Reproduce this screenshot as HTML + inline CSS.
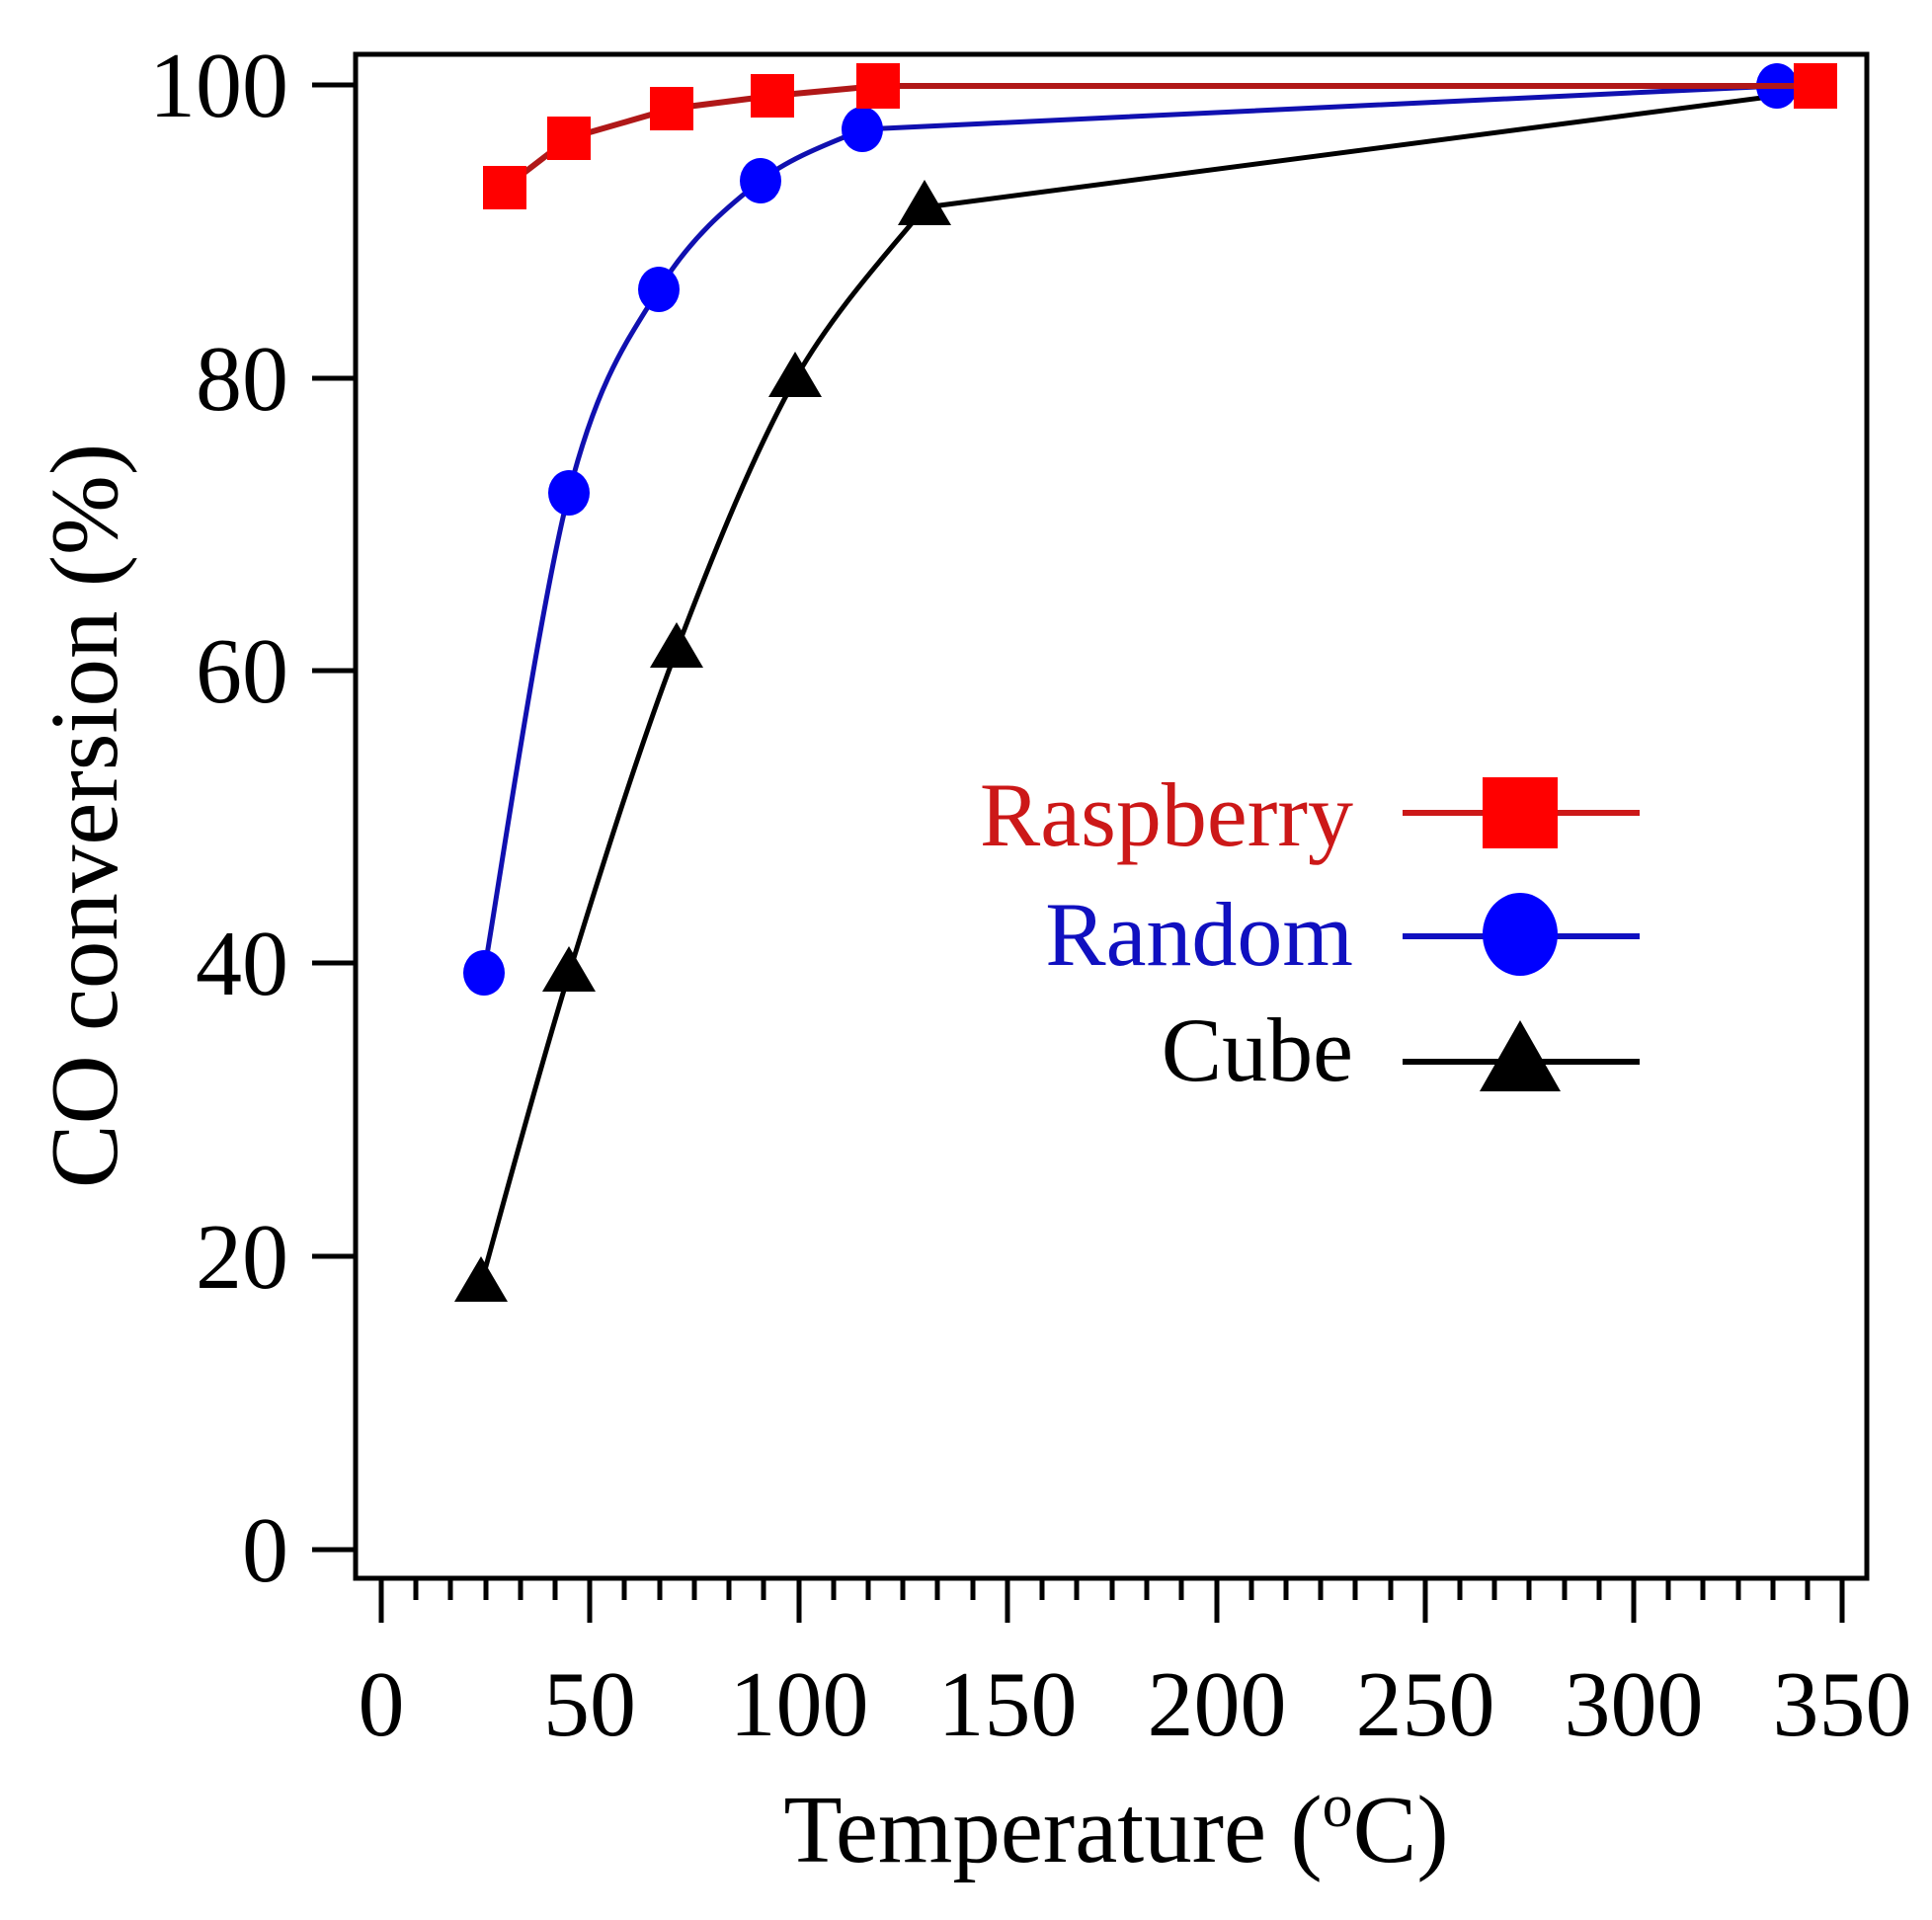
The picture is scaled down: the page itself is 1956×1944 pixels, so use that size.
<!DOCTYPE html>
<html><head><meta charset="utf-8"><style>
html,body{margin:0;padding:0;background:#fff;}
svg{display:block;}
text{font-family:"Liberation Serif",serif;}
</style></head><body>
<svg width="1956" height="1944" viewBox="0 0 1956 1944" xmlns="http://www.w3.org/2000/svg">
<rect width="1956" height="1944" fill="#fff"/>
<rect x="360" y="55" width="1530" height="1543" fill="none" stroke="#000" stroke-width="5"/>
<g stroke="#000" stroke-width="5">
<line x1="316" y1="1569" x2="360" y2="1569"/>
<line x1="316" y1="1272" x2="360" y2="1272"/>
<line x1="316" y1="975" x2="360" y2="975"/>
<line x1="316" y1="679" x2="360" y2="679"/>
<line x1="316" y1="383" x2="360" y2="383"/>
<line x1="316" y1="86" x2="360" y2="86"/>
</g>
<g font-size="94" text-anchor="end" fill="#000">
<text x="292" y="1601">0</text>
<text x="292" y="1304">20</text>
<text x="292" y="1007">40</text>
<text x="292" y="711">60</text>
<text x="292" y="415">80</text>
<text x="292" y="118">100</text>
</g>
<g stroke="#000" stroke-width="5">
<line x1="386" y1="1598" x2="386" y2="1643"/>
<line x1="597" y1="1598" x2="597" y2="1643"/>
<line x1="809" y1="1598" x2="809" y2="1643"/>
<line x1="1020" y1="1598" x2="1020" y2="1643"/>
<line x1="1232" y1="1598" x2="1232" y2="1643"/>
<line x1="1443" y1="1598" x2="1443" y2="1643"/>
<line x1="1654" y1="1598" x2="1654" y2="1643"/>
<line x1="1865" y1="1598" x2="1865" y2="1643"/>
<path d="M421 1598v22M456 1598v22M492 1598v22M527 1598v22M562 1598v22
M632 1598v22M668 1598v22M703 1598v22M738 1598v22M773 1598v22
M844 1598v22M879 1598v22M914 1598v22M949 1598v22M985 1598v22
M1055 1598v22M1090 1598v22M1126 1598v22M1161 1598v22M1196 1598v22
M1267 1598v22M1302 1598v22M1337 1598v22M1372 1598v22M1408 1598v22
M1478 1598v22M1513 1598v22M1548 1598v22M1584 1598v22M1619 1598v22
M1689 1598v22M1724 1598v22M1760 1598v22M1795 1598v22M1830 1598v22"/>
</g>
<g font-size="94" text-anchor="middle" fill="#000">
<text x="386" y="1757">0</text>
<text x="597" y="1757">50</text>
<text x="809" y="1757">100</text>
<text x="1020" y="1757">150</text>
<text x="1232" y="1757">200</text>
<text x="1443" y="1757">250</text>
<text x="1654" y="1757">300</text>
<text x="1865" y="1757">350</text>
</g>
<text x="1130" y="1885" font-size="97" text-anchor="middle" fill="#000">Temperature (<tspan font-size="62" dy="-36">o</tspan><tspan dy="36">C)</tspan></text>
<text transform="translate(118,826) rotate(-90)" font-size="97" text-anchor="middle" fill="#000">CO conversion (%)</text>

<!-- Cube -->
<path fill="none" stroke="#000" stroke-width="5" d="M487,1300 C501.8,1247.7 543,1093 576,986 C609,879 646.8,758.3 685,658 C723.2,557.7 763.2,458.7 805,384 C846.8,309.3 914.2,239 936,210 L1799,97"/>
<g fill="#000">
<path d="M487,1272 L514,1318 L460,1318Z"/>
<path d="M576,958 L603,1004 L549,1004Z"/>
<path d="M685,630 L712,676 L658,676Z"/>
<path d="M805,356 L832,402 L778,402Z"/>
<path d="M936,182 L963,228 L909,228Z"/>
</g>
<!-- Random -->
<path fill="none" stroke="#1010b0" stroke-width="5" d="M490,985 C504,904 546.5,614 576,499 C605.5,384 634.7,345.7 667,293 C699.3,240.3 735.7,210 770,183 C804.3,156 855.8,139.7 873,131 L1799,87"/>
<g fill="#0000ff">
<ellipse cx="490" cy="985" rx="21" ry="23"/>
<ellipse cx="576" cy="499" rx="21" ry="23"/>
<ellipse cx="667" cy="293" rx="21" ry="23"/>
<ellipse cx="770" cy="183" rx="21" ry="23"/>
<ellipse cx="873" cy="131" rx="21" ry="23"/>
<ellipse cx="1799" cy="87" rx="21" ry="23"/>
</g>
<!-- Raspberry -->
<polyline fill="none" stroke="#b01818" stroke-width="6" points="511,190 576,140 680,110 782,97 889,87 1838,87"/>
<g fill="#ff0000">
<rect x="489" y="168" width="44" height="44"/>
<rect x="554" y="118" width="44" height="44"/>
<rect x="658" y="88" width="44" height="44"/>
<rect x="760" y="75" width="44" height="44"/>
<rect x="867" y="64" width="44" height="46"/>
<rect x="1816" y="64" width="44" height="46"/>
</g>

<g font-size="92" text-anchor="end">
<text x="1370" y="856" fill="#cc1818">Raspberry</text>
<text x="1370" y="977" fill="#1010c0">Random</text>
<text x="1370" y="1094" fill="#000">Cube</text>
</g>
<line x1="1420" y1="823" x2="1660" y2="823" stroke="#cc1818" stroke-width="6"/>
<rect x="1501" y="787" width="76" height="72" fill="#ff0000"/>
<line x1="1420" y1="948" x2="1660" y2="948" stroke="#1010c0" stroke-width="6"/>
<ellipse cx="1539" cy="946" rx="38" ry="42" fill="#0000ff"/>
<line x1="1420" y1="1075" x2="1660" y2="1075" stroke="#000" stroke-width="6"/>
<path d="M1539,1033 L1580,1105 L1498,1105Z" fill="#000"/>
</svg>
</body></html>
